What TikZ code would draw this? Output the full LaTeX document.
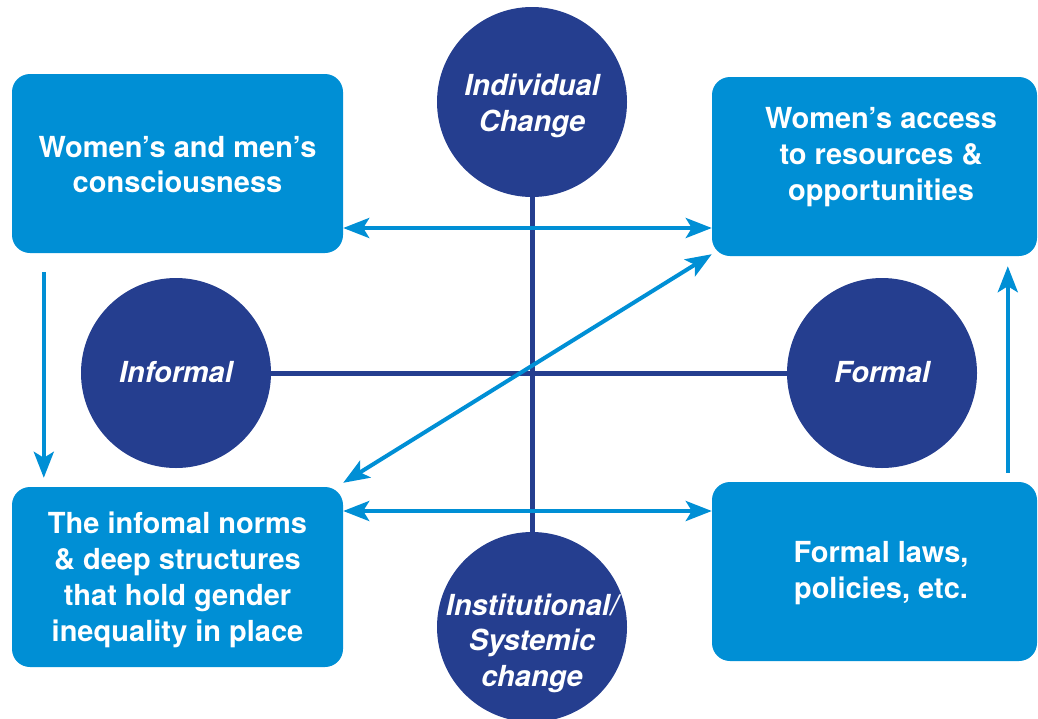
\documentclass[tikz,border=0pt]{standalone}
\usepackage{fontspec}
\setmainfont{TeX Gyre Heros}
\usetikzlibrary{arrows.meta}
\definecolor{boxblue}{RGB}{0,143,213}
\definecolor{ringblue}{RGB}{37,62,143}

\begin{document}
\begin{tikzpicture}[x=1pt,y=-1pt,
  box/.style={fill=boxblue,rounded corners=18pt,inner sep=0pt},
  boxtext/.style={text=white,align=center,inner sep=0pt,
    font=\fontsize{29}{35.8}\selectfont\bfseries},
  ring/.style={circle,fill=ringblue,minimum size=190pt,inner sep=0pt},
  ringtext/.style={boxtext,font=\fontsize{29}{35.5}\selectfont\bfseries\itshape},
  axis/.style={ringblue,line width=5pt},
  tip/.tip={Stealth[length=26pt,width=20pt,inset=6pt]},
  arr/.style={boxblue,line width=4pt,-tip},
  dblarr/.style={boxblue,line width=4pt,tip-tip}]
  \useasboundingbox (0,0) rectangle (1038,718);

  % circles and the two axes
  \node[ring] (ind)  at (532,102) {};
  \node[ring] (inst) at (532,627) {};
  \node[ring] (inf)  at (176,373) {};
  \node[ring] (form) at (882,373) {};
  \draw[axis] (ind) -- (inst);
  \draw[axis] (inf) -- (form);

  \node[ringtext] (indtext)  at ([yshift=-4pt]ind.center)  {Individual\\Change};
  \node[ringtext] (insttext) at ([yshift=-16pt]inst.center) {Institutional/\\Systemic\\change};
  \node[ringtext] (inftext)  at ([yshift=1pt]inf.center)  {Informal};
  \node[ringtext] (formtext) at ([yshift=1pt]form.center) {Formal};

  % boxes
  \node[box,minimum width=331pt,minimum height=179pt] (tl) at (177.5,163.5) {};
  \node[box,minimum width=325pt,minimum height=179pt] (tr) at (874.5,166.5) {};
  \node[box,minimum width=331pt,minimum height=180pt] (bl) at (177.5,577) {};
  \node[box,minimum width=325pt,minimum height=179pt] (br) at (874.5,571.5) {};

  \node[boxtext] (tltext) at ([yshift=-1pt]tl.center) {Women's and men's\\consciousness};
  \node[boxtext] (trtext) at (881,157) {Women's access\\to resources \&\\opportunities};
  \node[boxtext] (bltext) at ([yshift=-3pt]bl.center) {The infomal norms\\\& deep structures\\that hold gender\\inequality in place};
  \node[boxtext] (brtext) at (881,573) {Formal laws,\\policies, etc.};

  % arrows
  \draw[dblarr] (tl.east |- 0,228) -- (tr.west |- 0,228);
  \draw[dblarr] (bl.east |- 0,511) -- (br.west |- 0,511);
  \draw[dblarr] ([yshift=4pt]bl.north east) -- ([yshift=2pt]tr.south west);
  \draw[arr] ([xshift=32pt,yshift=-19pt]tl.south west) -- ([xshift=32pt,yshift=9pt]bl.north west);
  \draw[arr] ([xshift=296pt,yshift=9pt]br.north west) -- ([xshift=296pt,yshift=-10pt]tr.south west);
\end{tikzpicture}
\end{document}
